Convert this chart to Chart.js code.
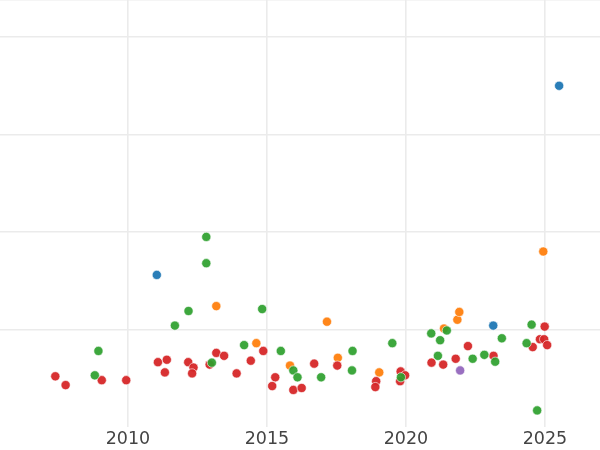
<!DOCTYPE html>
<html>
<head>
<meta charset="utf-8">
<script src="https://cdn.jsdelivr.net/npm/chart.js@4"></script>
<style>
  html, body { margin: 0; padding: 0; background: #fff; }
  #wrap { width: 600px; height: 450px; }
</style>
</head>
<body>
<div id="wrap"><canvas id="grafica"></canvas></div>
<script>
// años y valores
const rojoX = [2007.39, 2007.76, 2009.06, 2009.94, 2011.08, 2011.40, 2011.33, 2012.17, 2012.36, 2012.31,
               2012.94, 2013.18, 2013.46, 2013.91, 2014.42, 2014.87, 2015.30, 2015.19, 2015.95, 2016.25,
               2016.70, 2017.53, 2018.93, 2018.90, 2019.81, 2019.97, 2019.79, 2020.92, 2021.34, 2021.79,
               2022.23, 2023.15, 2024.56, 2024.82, 2024.97, 2025.08, 2024.99];
const rojoY = [0.52, 0.43, 0.48, 0.48, 0.665, 0.69, 0.56, 0.665, 0.61, 0.55,
               0.64, 0.76, 0.73, 0.55, 0.68, 0.78, 0.51, 0.42, 0.38, 0.40,
               0.65, 0.63, 0.47, 0.41, 0.57, 0.53, 0.47, 0.66, 0.64, 0.70,
               0.83, 0.73, 0.82, 0.90, 0.90, 0.84, 1.03];

const verdeX = [2008.94, 2008.81, 2011.69, 2012.18, 2012.82, 2012.82, 2013.02, 2014.18, 2014.83, 2015.50,
                2015.95, 2016.10, 2016.95, 2018.08, 2018.06, 2019.51, 2019.82, 2020.91, 2021.23, 2021.47,
                2021.15, 2022.40, 2022.82, 2023.21, 2023.45, 2024.34, 2024.52, 2024.72];
const verdeY = [0.78, 0.53, 1.04, 1.19, 1.95, 1.68, 0.66, 0.84, 1.21, 0.78,
                0.58, 0.51, 0.51, 0.78, 0.58, 0.86, 0.51, 0.96, 0.89, 0.99,
                0.73, 0.70, 0.74, 0.67, 0.91, 0.86, 1.05, 0.17];

const naranjaX = [2013.18, 2014.62, 2015.83, 2017.16, 2017.55, 2019.04, 2021.37, 2021.85, 2021.92, 2024.94];
const naranjaY = [1.24, 0.86, 0.63, 1.08, 0.71, 0.56, 1.01, 1.10, 1.18, 1.80];

const azulX = [2011.04, 2023.14, 2025.51];
const azulY = [1.56, 1.04, 3.50];

const moradoX = [2021.95];
const moradoY = [0.58];

const ticksX = [2010, 2015, 2020, 2025];

function puntos(xs, ys) {
    return xs.map((x, i) => ({ x: x, y: ys[i] }));
}

function serie(xs, ys, color, orden) {
    return {
        data: puntos(xs, ys),
        backgroundColor: color,
        borderColor: '#ffffff',
        borderWidth: 0.6,
        pointRadius: 4.6,
        pointHoverRadius: 5,
        order: orden
    };
}

const ctx = document.getElementById('grafica').getContext('2d');

new Chart(ctx, {
    type: 'scatter',
    data: {
        datasets: [
            serie(verdeX, verdeY, 'rgba(44, 160, 44, 0.92)', 0),
            serie(rojoX, rojoY, 'rgba(214, 39, 40, 0.95)', 1),
            serie(naranjaX, naranjaY, 'rgba(255, 127, 14, 0.95)', 2),
            serie(azulX, azulY, 'rgba(31, 119, 180, 0.95)', 3),
            serie(moradoX, moradoY, 'rgba(148, 103, 189, 0.95)', 4)
        ]
    },
    options: {
        responsive: true,
        maintainAspectRatio: false,
        animation: false,
        layout: { padding: 0, autoPadding: false },
        plugins: {
            legend: { display: false },
            tooltip: { enabled: true }
        },
        scales: {
            x: {
                type: 'linear',
                min: 2005.4,
                max: 2026.98,
                afterBuildTicks: function(axis) {
                    axis.ticks = ticksX.map(v => ({ value: v }));
                },
                afterFit: function(axis) {
                    axis.height = 23;
                },
                border: { display: false },
                grid: {
                    color: '#ebebeb',
                    lineWidth: 1.6,
                    drawTicks: false
                },
                ticks: {
                    padding: 2,
                    color: '#444444',
                    font: { family: 'DejaVu Sans', size: 17.5 },
                    callback: v => String(v)
                }
            },
            y: {
                type: 'linear',
                min: 0,
                max: 4.38,
                border: { display: false },
                grid: {
                    color: c => c.tick && c.tick.value === 0 ? 'rgba(0,0,0,0)' : '#ebebeb',
                    lineWidth: 1.6,
                    drawTicks: false
                },
                ticks: {
                    display: false,
                    stepSize: 1
                }
            }
        }
    }
});
</script>
</body>
</html>
